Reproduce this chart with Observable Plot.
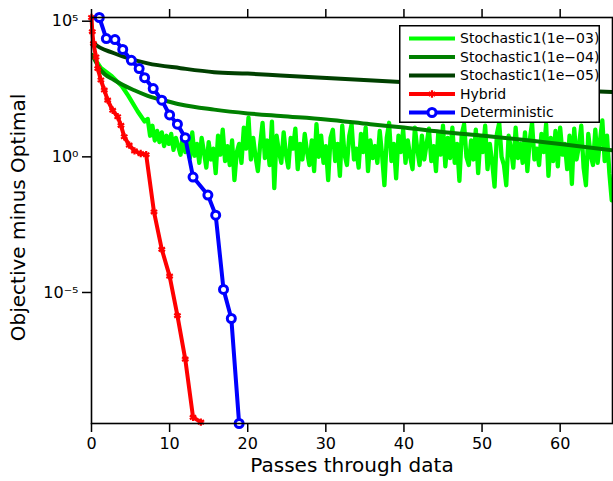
<!DOCTYPE html>
<html><head><meta charset="utf-8">
<script src="https://cdn.jsdelivr.net/npm/d3@7"></script>
<script src="https://cdn.jsdelivr.net/npm/@observablehq/plot@0.6"></script>
<style>
body{margin:0;background:#fff;}
#wrap{position:relative;width:613px;height:481px;overflow:hidden;font-family:"DejaVu Sans",sans-serif;}
#legend{position:absolute;left:399px;top:25px;}
</style></head><body><div id="wrap"></div>
<script>
// ---------- data ----------
const seriesNames = ["Stochastic1(1e\u221203)", "Stochastic1(1e\u221204)", "Stochastic1(1e\u221205)", "Hybrid", "Deterministic"];
const seriesColors = ["#00ff00", "#008000", "#004000", "#ff0000", "#0000ff"];

// Stochastic1(1e-03): smooth start then noisy plateau
const s3EarlyX = [0.1, 1.2, 2.6, 3.9, 4.7, 5.9, 6.8];
const s3EarlyY = [5600, 1900, 930, 400, 180, 48, 20];
const s3NoiseStart = 7.2, s3NoiseStep = 0.3;
const s3NoiseY = [
  25, 6, 14, 4, 9, 3.5, 8, 2.5, 6, 3,
  7, 1.8, 5, 2.5, 1.2, 6, 1.5, 4, 0.9, 8,
  1.1, 3, 0.6, 5, 1.5, 0.4, 3.5, 0.8, 2, 0.25,
  6, 1.2, 10, 0.7, 2.5, 0.5, 4, 0.14, 1.5, 3,
  0.6, 12, 2, 28, 0.8, 5, 1, 0.3, 3, 18,
  0.9, 4, 0.5, 20, 0.07, 6, 1.5, 0.6, 8, 1.2,
  0.4, 5, 2, 11, 0.35, 3, 0.8, 7, 1.5, 0.5,
  4, 0.3, 16, 1, 6, 0.6, 2.5, 0.14, 5, 10,
  0.7, 3, 0.2, 14, 1.2, 0.5, 6, 16, 0.8, 2,
  0.4, 7, 1.5, 12, 0.3, 4, 0.9, 2.5, 0.6, 9,
  1.2, 0.09, 5, 18, 0.7, 3, 0.16, 6, 1.5, 10,
  0.6, 4, 1, 0.35, 12, 2, 0.5, 6, 0.8, 3,
  11, 0.7, 2.5, 0.3, 8, 1.2, 14, 0.45, 5, 0.9,
  12, 0.6, 3, 0.13, 7, 16, 1, 0.5, 4, 0.8,
  10, 0.25, 5, 1.5, 14, 0.35, 3, 0.6, 0.08, 7,
  18, 1, 0.5, 0.09, 6, 2, 0.4, 12, 0.9, 3,
  0.6, 8, 0.3, 4, 18, 0.8, 2, 0.5, 7, 1.5,
  16, 0.2, 5, 0.7, 9, 0.45, 12, 1.2, 3, 0.35,
  6, 0.1, 11, 0.8, 2.5, 14, 0.4, 0.09, 7, 1.2,
  0.5, 10, 0.6, 4, 22, 0.7, 6, 0.25, 0.025
];

// Stochastic1(1e-04)
const s4X = [0.1, 1.2, 2.9, 5.4, 7.2, 9.7, 11.4, 15.7, 20, 24.2, 30, 35.7, 40, 45.5, 50.2, 55.8, 60, 66.7];
const s4Y = [5600, 1550, 680, 290, 178, 112, 85, 55, 40, 32, 24, 16, 12, 7.9, 6, 4.1, 3, 1.74];

// Stochastic1(1e-05)
const s5X = [0.1, 0.3, 2.9, 7.2, 11.4, 15.7, 20, 24.2, 39.6, 50, 60, 66.7];
const s5Y = [20000, 15500, 6600, 2800, 1860, 1320, 1170, 1000, 575, 400, 290, 245];

// Hybrid
const hybX = [0, 0.1, 0.25, 0.58, 0.8, 1.2, 1.64, 2.07, 2.71, 3.35, 3.77, 4.19, 4.83, 5.5, 6.3, 7, 8, 9, 10, 11, 12, 13, 14];
const hybY = [1.37e5, 4.1e4, 1.5e4, 4800, 1800, 680, 290, 123, 52, 30, 14.5, 5.5, 2.7, 1.66, 1.32, 1.2,
  9.3e-3, 3.9e-4, 4.0e-5, 1.4e-6, 3.5e-8, 2.5e-10, 1.66e-10];

// Deterministic
const detX = [1, 1.9, 3, 4, 5.1, 6.1, 6.8, 7.9, 9, 10, 11, 12, 13, 14.9, 15.9, 16.9, 17.9, 18.9];
const detY = [1.37e5, 2.3e4, 2.1e4, 9100, 3600, 1800, 830, 330, 123, 35, 16, 5.1, 0.18, 0.039, 7.1e-3, 1.3e-5, 1.1e-6, 1.48e-10];

const xTicks = [0, 10, 20, 30, 40, 50, 60];
const yTicks = [1e5, 1, 1e-5];
const yTickLabels = ["10\u2075", "10\u2070", "10\u207B\u2075"];

// ---------- build tables ----------
const s3 = s3EarlyX.map((x, i) => ({x, y: s3EarlyY[i]}))
  .concat(s3NoiseY.map((y, i) => ({x: s3NoiseStart + i * s3NoiseStep, y})));
const s4 = s4X.map((x, i) => ({x, y: s4Y[i]}));
const s5 = s5X.map((x, i) => ({x, y: s5Y[i]}));
const hyb = hybX.map((x, i) => ({x, y: hybY[i]}));
const det = detX.map((x, i) => ({x, y: detY[i]}));

const chart = Plot.plot({
  width: 613, height: 481,
  marginLeft: 91, marginRight: 1, marginTop: 17, marginBottom: 58,
  style: {fontFamily: "DejaVu Sans, sans-serif", fontSize: "16px", color: "#000", background: "#fff"},
  x: {domain: [0, 66.7]},
  y: {type: "log", domain: [1.48e-10, 1.37e5]},
  marks: [
    Plot.line(s3, {x: "x", y: "y", stroke: seriesColors[0], strokeWidth: 4.3, clip: true}),
    Plot.line(s4, {x: "x", y: "y", stroke: seriesColors[1], strokeWidth: 4, curve: "monotone-x", clip: true}),
    Plot.line(s5, {x: "x", y: "y", stroke: seriesColors[2], strokeWidth: 4, curve: "monotone-x", clip: true}),
    Plot.line(hyb, {x: "x", y: "y", stroke: seriesColors[3], strokeWidth: 4}),
    Plot.dot(hyb, {x: "x", y: "y", symbol: "asterisk", r: 3.5, stroke: seriesColors[3], strokeWidth: 2.2}),
    Plot.line(det, {x: "x", y: "y", stroke: seriesColors[4], strokeWidth: 4}),
    Plot.dot(det, {x: "x", y: "y", r: 4, stroke: seriesColors[4], fill: "#fff", strokeWidth: 3}),
    Plot.frame({stroke: "#000", strokeWidth: 1.6}),
    Plot.axisX({ticks: xTicks, tickSize: 9, tickPadding: 5, strokeWidth: 1.5, label: null, fontSize: 16}),
    Plot.axisX({anchor: "top", ticks: xTicks, tickSize: 9, strokeWidth: 1.5, tickFormat: () => "", label: null}),
    Plot.axisY({ticks: yTicks, tickSize: 9, tickPadding: 4, strokeWidth: 1.5, label: null, fontSize: 16,
      tickFormat: (d) => yTickLabels[yTicks.indexOf(d)]}),
    Plot.text(["Passes through data"], {frameAnchor: "bottom", dy: 48, fontSize: 20, text: (d) => d}),
    Plot.text(["Objective minus Optimal"], {frameAnchor: "left", dx: -73, dy: -3, rotate: -90, textAnchor: "middle", fontSize: 20, text: (d) => d})
  ]
});
const wrap = document.getElementById("wrap");
wrap.appendChild(chart);

// ---------- legend ----------
const lw = 201, lh = 98;
const leg = d3.select(wrap).append("svg").attr("id", "legend").attr("width", lw).attr("height", lh)
  .style("font-family", "DejaVu Sans, sans-serif");
leg.append("rect").attr("x", 0.75).attr("y", 0.75).attr("width", lw - 1.5).attr("height", lh - 1.5)
  .attr("fill", "#fff").attr("stroke", "#000").attr("stroke-width", 1.5);
seriesNames.forEach((name, i) => {
  const cy = 13.5 + i * 18.5;
  leg.append("line").attr("x1", 10).attr("x2", 56).attr("y1", cy).attr("y2", cy)
    .attr("stroke", seriesColors[i]).attr("stroke-width", 4);
  if (i === 3) {
    leg.append("path").attr("transform", `translate(33,${cy})`)
      .attr("d", d3.symbol(d3.symbolAsterisk, 40)()).attr("stroke", seriesColors[i]).attr("stroke-width", 2.2).attr("fill", "none");
  }
  if (i === 4) {
    leg.append("circle").attr("cx", 33).attr("cy", cy).attr("r", 4)
      .attr("fill", "#fff").attr("stroke", seriesColors[i]).attr("stroke-width", 3);
  }
  leg.append("text").attr("x", 61).attr("y", cy).attr("dy", "0.35em").attr("font-size", 14).text(name);
});
</script>
</body></html>
